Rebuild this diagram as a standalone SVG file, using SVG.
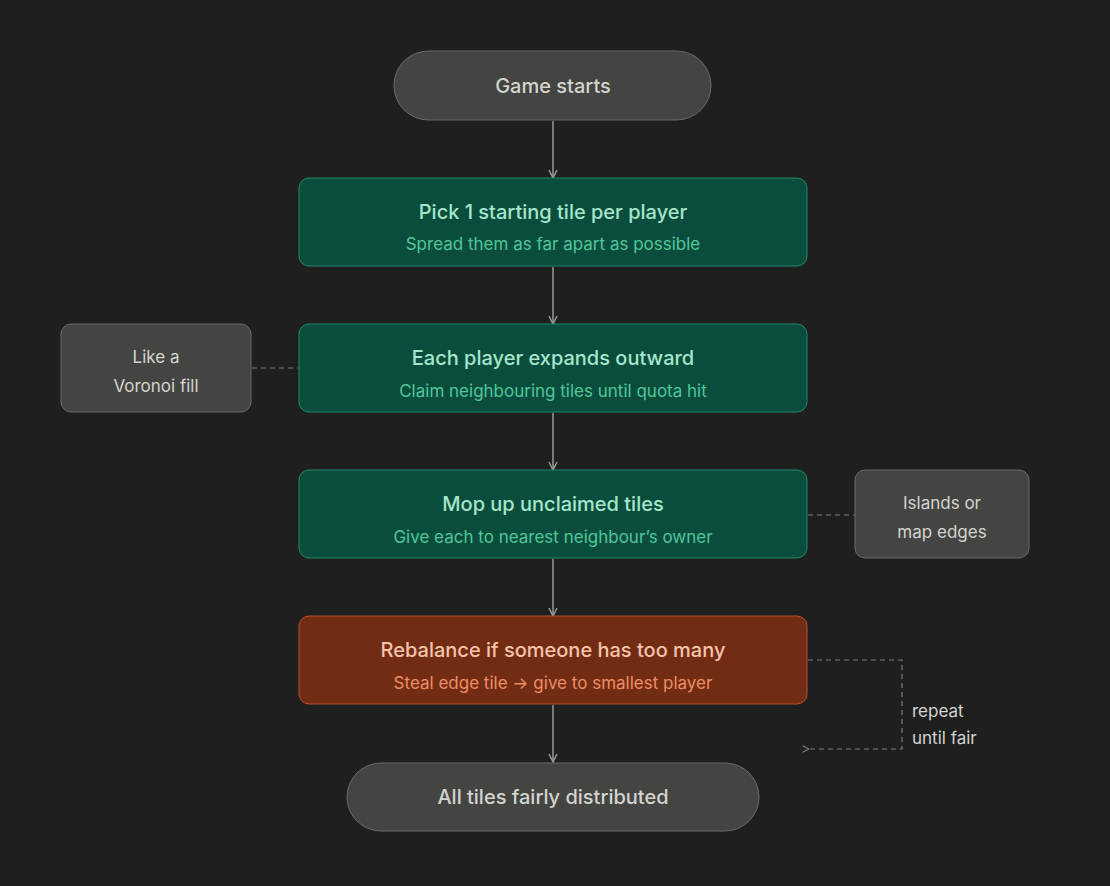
<svg xmlns="http://www.w3.org/2000/svg" width="1110" height="886" viewBox="0 0 1110 886">
<style>
.t{font-family:Inter,"Liberation Sans",sans-serif;text-anchor:middle}
.ti{font-size:20px;font-weight:500}
.su{font-size:17px}
.g rect{fill:#0b4d3c;stroke:#1f8a68;stroke-width:1}
.gt{fill:#a6e6cb}.gs{fill:#4fc79a}
.n rect{fill:#444442;stroke:#6b6b68;stroke-width:1}
.nt{fill:#d4d4cf}
.c{stroke:#9a9a96;stroke-width:1.5;fill:none}
.d{stroke:#7d7d79;stroke-width:1.2;fill:none;stroke-dasharray:5 4}
</style>
<defs>
<marker id="a" viewBox="0 0 10 10" refX="9" refY="5" markerWidth="10" markerHeight="10" orient="auto" markerUnits="userSpaceOnUse"><path d="M1 1L9 5L1 9" fill="none" stroke="#9a9a96" stroke-width="1.5"/></marker>
<marker id="b" viewBox="0 0 10 10" refX="1" refY="5" markerWidth="8" markerHeight="8" orient="auto-start-reverse" markerUnits="userSpaceOnUse"><path d="M9 1L1 5L9 9" fill="none" stroke="#9a9a96" stroke-width="1.2"/></marker>
</defs>
<rect width="1110" height="886" fill="#1f1f1f"/>
<g id="connectors">
<path class="c" d="M553 121V178" marker-end="url(#a)"/>
<path class="c" d="M553 267V324" marker-end="url(#a)"/>
<path class="c" d="M553 413V470" marker-end="url(#a)"/>
<path class="c" d="M553 559V616" marker-end="url(#a)"/>
<path class="c" d="M553 705V762" marker-end="url(#a)"/>
<path class="d" d="M252 368H298"/>
<path class="d" d="M808 515H855"/>
<path class="d" d="M808 660H902V749H809" marker-end="url(#b)"/>
</g>
<g id="start" class="n"><rect x="394" y="51" width="317" height="69" rx="34.5"/><text class="t ti nt" x="553" y="93">Game starts</text></g>
<g id="pick" class="g"><rect x="299" y="178" width="508" height="88" rx="10"/><text class="t ti gt" x="553" y="219">Pick 1 starting tile per player</text><text class="t su gs" x="553" y="250">Spread them as far apart as possible</text></g>
<g id="expand" class="g"><rect x="299" y="324" width="508" height="88" rx="10"/><text class="t ti gt" x="553" y="365">Each player expands outward</text><text class="t su gs" x="553" y="397">Claim neighbouring tiles until quota hit</text></g>
<g id="mop" class="g"><rect x="299" y="470" width="508" height="88" rx="10"/><text class="t ti gt" x="553" y="511">Mop up unclaimed tiles</text><text class="t su gs" x="553" y="543">Give each to nearest neighbour’s owner</text></g>
<g id="rebalance"><rect x="299" y="616" width="508" height="88" rx="10" fill="#732c14" stroke="#b4502c"/><text class="t ti" fill="#f6c3ab" x="553" y="657">Rebalance if someone has too many</text><text class="t su" fill="#ee8c66" x="553" y="689">Steal edge tile → give to smallest player</text></g>
<g id="end" class="n"><rect x="347" y="763" width="412" height="68" rx="34"/><text class="t ti nt" x="553" y="804">All tiles fairly distributed</text></g>
<g id="voronoi" class="n"><rect x="61" y="324" width="190" height="88" rx="10"/><text class="t su nt" x="156" y="363">Like a</text><text class="t su nt" x="156" y="392">Voronoi fill</text></g>
<g id="islands" class="n"><rect x="855" y="470" width="174" height="88" rx="10"/><text class="t su nt" x="942" y="509">Islands or</text><text class="t su nt" x="942" y="538">map edges</text></g>
<g id="loop"><text class="su" font-family="Inter,'Liberation Sans',sans-serif" fill="#d4d4cf" x="912" y="717">repeat</text><text class="su" font-family="Inter,'Liberation Sans',sans-serif" fill="#d4d4cf" x="912" y="744">until fair</text></g>
</svg>
